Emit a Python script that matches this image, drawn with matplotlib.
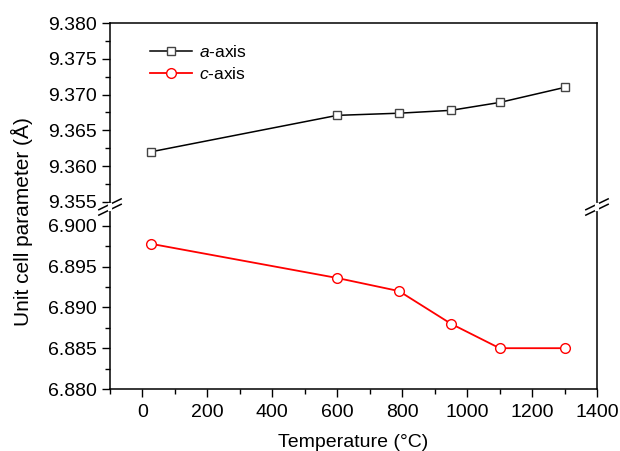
import matplotlib.pyplot as plt
from matplotlib.ticker import MultipleLocator, FormatStrFormatter
from matplotlib.lines import Line2D

plt.rcParams['font.family'] = ['Liberation Sans', 'DejaVu Sans']
plt.rcParams['mathtext.fontset'] = 'custom'
plt.rcParams['mathtext.rm'] = 'Liberation Sans'
plt.rcParams['mathtext.it'] = 'Liberation Sans:italic'

temp = [25, 600, 790, 950, 1100, 1300]
a_axis = [9.3620, 9.3671, 9.3674, 9.3678, 9.3689, 9.3710]
c_axis = [6.8978, 6.8936, 6.8920, 6.8880, 6.8850, 6.8850]

fig = plt.figure(figsize=(6.2, 4.51), dpi=100)
L, W = 110 / 620, 487 / 620
ybrk = 1 - 207 / 451
ytop = 1 - 23 / 451
ybot = 1 - 389 / 451
ax1 = fig.add_axes([L, ybrk, W, ytop - ybrk])
ax2 = fig.add_axes([L, ybot, W, ybrk - ybot])

ax1.plot(temp, a_axis, color='black', lw=1.1, marker='s', ms=6.2,
         mfc='white', mec='#444444', mew=1.0, label='$a$-axis')
ax2.plot(temp, c_axis, color='red', lw=1.3, marker='o', ms=7,
         mfc='white', mec='red', mew=1.0, label='$c$-axis')

ax1.set_ylim(9.3543, 9.380)
ax2.set_ylim(6.880, 6.9023)
for ax in (ax1, ax2):
    ax.set_xlim(-100, 1400)
    ax.xaxis.set_major_locator(MultipleLocator(200))
    ax.xaxis.set_minor_locator(MultipleLocator(100))
    ax.yaxis.set_major_locator(MultipleLocator(0.005))
    ax.yaxis.set_minor_locator(MultipleLocator(0.0025))
    ax.yaxis.set_major_formatter(FormatStrFormatter('%.3f'))
    ax.tick_params(which='major', direction='out', length=6, width=1, labelsize=14, right=False, top=False)
    ax.tick_params(which='minor', direction='out', length=3.5, width=1, right=False, top=False)
    for s in ax.spines.values():
        s.set_linewidth(1.1)
    ax.patch.set_alpha(0)

ax1.spines['bottom'].set_visible(False)
ax1.tick_params(axis='x', which='both', bottom=False, labelbottom=False)
ax2.spines['top'].set_visible(False)
ax2.tick_params(axis='x', pad=5)

ax2.set_xlabel('Temperature (°C)', fontsize=14, labelpad=9)
fig.text(0.036, 0.508, 'Unit cell parameter (Å)', rotation=90, fontsize=15,
         ha='center', va='center')

h1, l1 = ax1.get_legend_handles_labels()
h2, l2 = ax2.get_legend_handles_labels()
ax1.legend(h1 + h2, l1 + l2, loc='upper left', bbox_to_anchor=(0.05, 0.97),
           frameon=False, fontsize=12.5, handlelength=2.4, handletextpad=0.4,
           labelspacing=0.35)

# break marks on left and right spines
for xf in (L, L + W):
    for dy in (-0.006, 0.006):
        yc = ybrk + dy
        fig.add_artist(Line2D([xf - 0.018, xf + 0.018], [yc - 0.012, yc + 0.012],
                              color='black', lw=1.1))
    fig.add_artist(Line2D([xf, xf], [ybrk - 0.005, ybrk + 0.005], color='white', lw=3))

fig.savefig('out.png', dpi=100)
